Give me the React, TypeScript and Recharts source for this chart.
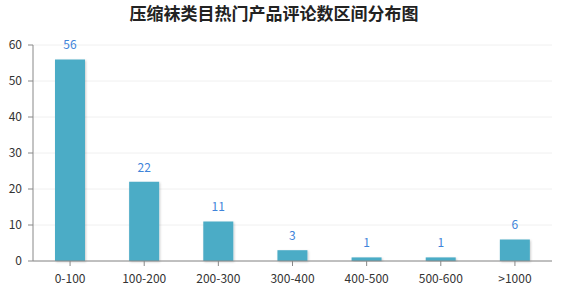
import React from 'react';
import { BarChart, Bar, XAxis, YAxis, CartesianGrid, LabelList } from 'recharts';

const categories = ['0-100', '100-200', '200-300', '300-400', '400-500', '500-600', '>1000'];
const counts = [56, 22, 11, 3, 1, 1, 6];
const yTicks = [0, 10, 20, 30, 40, 50, 60];

const data = categories.map((c, i) => ({ name: c, value: counts[i] }));

const font = '"Microsoft YaHei", "Noto Sans CJK SC", "Open Sans", sans-serif';

export default function App() {
  return (
    <div style={{ position: 'absolute', left: 0, top: 0, width: 563, height: 294, background: '#fff' }}>
      <BarChart width={563} height={294} data={data} margin={{ top: 45, right: 11, bottom: 0, left: 0 }} barCategoryGap="30%">
        <defs>
          <filter id="sh" x="-20%" y="-20%" width="140%" height="140%">
            <feDropShadow dx="1" dy="1" stdDeviation="1" floodColor="#000" floodOpacity="0.2" />
          </filter>
        </defs>
        <text x={274} y={20} textAnchor="middle" style={{ fontFamily: font, fontSize: 17, fontWeight: 'bold', fill: '#222' }}>
          压缩袜类目热门产品评论数区间分布图
        </text>
        <CartesianGrid vertical={false} stroke="#f0f0f0" />
        <XAxis
          dataKey="name"
          interval={0}
          tickSize={5}
          tickMargin={8}
          height={33}
          stroke="#888"
          tick={{ fill: '#333', fontSize: 12, fontFamily: font }}
        />
        <YAxis
          ticks={yTicks}
          domain={[0, 60]}
          width={33}
          tickSize={5}
          tickMargin={6}
          stroke="#888"
          tick={{ fill: '#333', fontSize: 12, fontFamily: font }}
        />
        <Bar dataKey="value" fill="#4bacc6" barSize={30} isAnimationActive={false} style={{ filter: 'url(#sh)' }}>
          <LabelList dataKey="value" position="top" offset={10} fill="#4084da" fontSize={12} fontFamily={font} />
        </Bar>
      </BarChart>
    </div>
  );
}
